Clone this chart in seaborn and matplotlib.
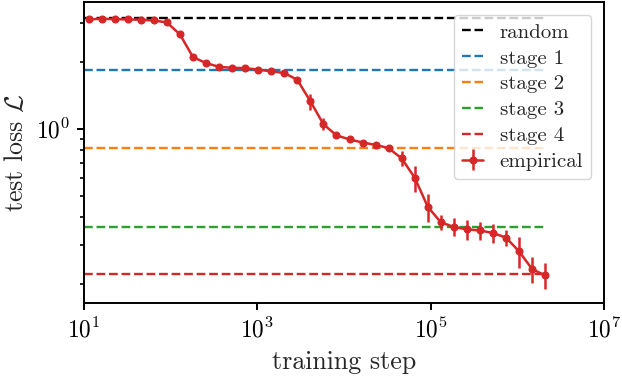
import numpy as np
import pandas as pd
import matplotlib
matplotlib.use("Agg")
import matplotlib.pyplot as plt
import matplotlib.ticker as mticker
import seaborn as sns

# reference levels
levels = ["random", "stage 1", "stage 2", "stage 3", "stage 4"]
level_loss = [3.178, 1.852, 0.819, 0.362, 0.221]
level_colors = ["black", "tab:blue", "tab:orange", "tab:green", "tab:red"]

# empirical test loss
steps = [11.3, 16, 22.6, 32, 45.3, 64, 90.5, 128, 181, 256, 362, 512,
         724, 1024, 1448, 2048, 2896, 4096, 5793, 8192, 11585, 16384,
         23170, 32768, 46341, 65536, 92682, 131072, 185364, 262144,
         370728, 524288, 741455, 1048576, 1482910, 2097152]
loss = [3.120, 3.143, 3.130, 3.120, 3.110, 3.088, 3.024, 2.671, 2.110,
        1.983, 1.906, 1.887, 1.881, 1.852, 1.819, 1.788, 1.666, 1.333,
        1.050, 0.935, 0.897, 0.868, 0.847, 0.819, 0.736, 0.602, 0.445,
        0.379, 0.361, 0.352, 0.348, 0.339, 0.323, 0.280, 0.233, 0.218]
loss_err = [0.03, 0.03, 0.03, 0.03, 0.03, 0.03, 0.03, 0.055, 0.044,
            0.03, 0.03, 0.03, 0.03, 0.03, 0.03, 0.03, 0.052, 0.11,
            0.065, 0.029, 0.019, 0.018, 0.018, 0.017, 0.057, 0.081, 0.065,
            0.031, 0.034, 0.037, 0.032, 0.035, 0.027, 0.044, 0.031, 0.029]

df = pd.DataFrame({"step": steps, "loss": loss, "err": loss_err})

sns.set_theme(style="ticks")
plt.rcParams["font.family"] = "serif"
plt.rcParams["font.serif"] = ["cmr10"]
plt.rcParams["mathtext.fontset"] = "cm"
plt.rcParams["axes.formatter.use_mathtext"] = True
plt.rcParams["axes.unicode_minus"] = False

fig, ax = plt.subplots(figsize=(6.22, 3.78), dpi=100)
fig.subplots_adjust(left=0.135, right=0.971, bottom=0.198, top=0.994)

# dashed levels run from the left edge to the last step
x_span = [10, steps[-1]]
for name, val, col in zip(levels, level_loss, level_colors):
    sns.lineplot(x=x_span, y=[val, val], color=col, linestyle="--",
                 linewidth=1.7, label=name, ax=ax)

ax.errorbar(df["step"], df["loss"], yerr=df["err"], color="tab:red",
            marker="o", markersize=4.8, linewidth=1.8, elinewidth=1.8,
            label="empirical")

ax.set_xscale("log")
ax.set_yscale("log")
ax.set_xlim(10, 1e7)
ax.set_ylim(0.1635, 3.73)
ax.set_xticks([1e1, 1e3, 1e5, 1e7])
ax.xaxis.set_minor_locator(mticker.NullLocator())
ax.yaxis.set_major_locator(mticker.FixedLocator([1.0]))
ax.yaxis.set_minor_locator(mticker.FixedLocator(
    [0.2, 0.3, 0.4, 0.5, 0.6, 0.7, 0.8, 0.9, 2, 3]))
ax.yaxis.set_minor_formatter(mticker.NullFormatter())

for s in ax.spines.values():
    s.set_linewidth(1.4)
    s.set_color("black")
ax.tick_params(which="major", length=5.2, width=1.4, labelsize=16.8,
               pad=5, colors="black")
ax.tick_params(which="minor", length=3, width=1.2, colors="black")

ax.set_xlabel("training step", fontsize=18.7, labelpad=6)
ax.set_ylabel(r"test loss $\mathcal{L}$", fontsize=18.7, labelpad=6)

ax.legend(loc="upper right", fontsize=15, handlelength=1.0,
          handletextpad=0.8, labelspacing=0.35, borderpad=0.4,
          framealpha=0.8, borderaxespad=0.6)

fig.savefig("out.png", dpi=100)
